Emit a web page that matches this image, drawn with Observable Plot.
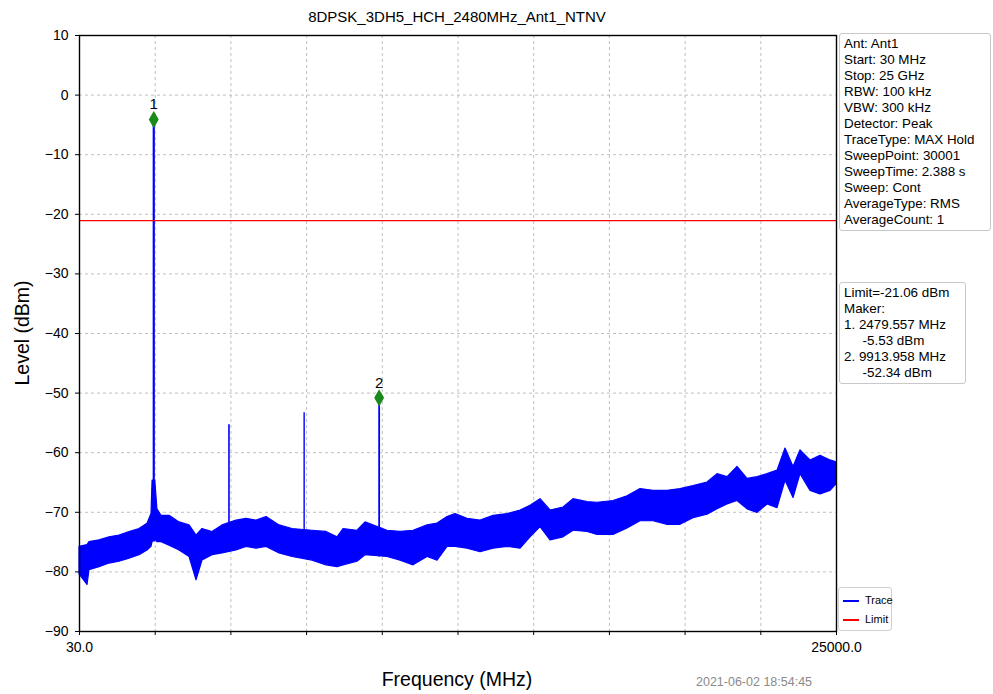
<!DOCTYPE html>
<html>
<head>
<meta charset="utf-8">
<script src="https://cdn.jsdelivr.net/npm/d3@7"></script>
<script src="https://cdn.jsdelivr.net/npm/@observablehq/plot@0.6"></script>
<style>
  html, body { margin: 0; padding: 0; background: #fff; }
  #wrap { position: relative; width: 993px; height: 694px; font-family: "Liberation Sans", Arial, sans-serif; color: #000; }
  #wrap svg { position: absolute; left: 0; top: 0; }
  .abs { position: absolute; white-space: pre; }
  .box { position: absolute; border: 1px solid #c8c8c8; border-radius: 3px; background: #fff; font-size: 13.4px; line-height: 16px; padding: 2px 4px; white-space: pre; }
</style>
</head>
<body>
<div id="wrap"></div>
<script>
// ---- data ----
const title = "8DPSK_3DH5_HCH_2480MHz_Ant1_NTNV";
const xDomain = [30, 25000];
const yDomain = [-90, 10];
const yTicks = [10, 0, -10, -20, -30, -40, -50, -60, -70, -80, -90];
const xTicks = [30, 2527, 5024, 7521, 10018, 12515, 15012, 17509, 20006, 22503, 25000];
const xTickLabels = {30: "30.0", 25000: "25000.0"};
const limitLevel = -21.06;

// noise floor envelope of the trace (MHz, upper dBm, lower dBm)
const bandFreq  = [30, 294, 360, 690, 1020, 1349, 1679, 2009, 2273, 2405, 2440, 2530, 2600, 2735, 2999, 3329, 3659, 3890, 4087, 4417, 4747, 5209, 5539, 5869, 6199, 6628, 7056, 7716, 8178, 8541, 8739, 9200, 9464, 10190, 10619, 11048, 11510, 11840, 12169, 12433, 12829, 13258, 13687, 14148, 14578, 14907, 15237, 15567, 15996, 16326, 16788, 17117, 17644, 18106, 18535, 18964, 19426, 19855, 20283, 20745, 21075, 21405, 21735, 22065, 22395, 22724, 23054, 23318, 23582, 23813, 24143, 24473, 24803, 25000];
const bandUpper = [-75.8, -75.5, -75.0, -74.7, -74.2, -73.9, -73.3, -72.8, -71.9, -70.3, -64.7, -64.7, -69.5, -70.6, -70.6, -71.7, -72.2, -73.9, -72.8, -73.3, -72.2, -71.4, -71.1, -71.4, -70.8, -72.2, -72.8, -73.1, -73.3, -74.2, -72.8, -73.1, -71.7, -73.1, -73.3, -73.1, -72.2, -71.9, -70.8, -70.3, -71.1, -71.4, -70.6, -70.3, -69.7, -68.9, -67.8, -69.7, -69.2, -67.8, -68.3, -68.4, -68.1, -67.3, -66.1, -66.4, -66.4, -66.1, -65.6, -65.0, -63.6, -64.1, -62.4, -64.4, -64.1, -63.6, -63.0, -59.3, -62.4, -59.6, -61.3, -60.5, -61.3, -61.6];
const bandLower = [-80.4, -82.2, -79.7, -79.2, -78.6, -78.3, -77.8, -77.2, -76.4, -75.8, -75.0, -74.6, -75.0, -75.0, -75.6, -76.4, -77.5, -81.4, -78.1, -77.2, -76.9, -76.4, -75.8, -76.1, -75.8, -76.9, -77.5, -78.1, -78.9, -79.2, -78.9, -78.3, -77.2, -77.5, -78.1, -78.9, -77.5, -78.1, -75.8, -75.8, -76.1, -76.7, -76.1, -75.8, -76.1, -74.2, -72.5, -74.7, -74.2, -73.1, -73.3, -73.8, -73.8, -72.7, -71.5, -71.5, -72.1, -72.1, -71.0, -70.4, -69.5, -68.7, -68.1, -69.5, -70.1, -68.7, -69.3, -64.7, -67.6, -63.6, -66.4, -67.0, -66.4, -65.3];

// narrow emissions (harmonics)
const spikeFreq  = [2479.557, 4960, 7440, 9913.958];
const spikePeak  = [-4.0, -55.3, -53.3, -50.8];
const spikeBase  = [-75.0, -76.5, -77.0, -77.5];
const spikeWidth = [2.2, 1.6, 1.4, 1.8];

// markers (as drawn)
const markerLabel = ["1", "2"];
const markerFreq  = [2479.557, 9913.958];
const markerLevel = [-4.1, -50.8];

const infoLines = ["Ant: Ant1", "Start: 30 MHz", "Stop: 25 GHz", "RBW: 100 kHz", "VBW: 300 kHz", "Detector: Peak", "TraceType: MAX Hold", "SweepPoint: 30001", "SweepTime: 2.388 s", "Sweep: Cont", "AverageType: RMS", "AverageCount: 1"];
const markerLines = ["Limit=-21.06 dBm", "Maker:", "1. 2479.557 MHz", "     -5.53 dBm", "2. 9913.958 MHz", "     -52.34 dBm"];
const legendNames = ["Trace", "Limit"];
const legendColors = ["#0000ff", "#ff0000"];
const timestamp = "2021-06-02 18:54:45";

// ---- build ----
const band = bandFreq.map((f, i) => ({f, hi: bandUpper[i], lo: bandLower[i]}));
const spikes = spikeFreq.map((f, i) => ({f, peak: spikePeak[i], base: spikeBase[i], w: spikeWidth[i]}));
const markers = markerFreq.map((f, i) => ({f, y: markerLevel[i], label: markerLabel[i]}));

const blue = "#0000ff";
const chart = Plot.plot({
  width: 993,
  height: 694,
  marginLeft: 79,
  marginRight: 157,
  marginTop: 35,
  marginBottom: 63,
  style: {fontFamily: "Liberation Sans, Arial, sans-serif", fontSize: "14px", color: "#000", background: "#fff"},
  x: {domain: xDomain},
  y: {domain: yDomain},
  marks: [
    Plot.gridX(xTicks, {stroke: "#b0b0b0", strokeOpacity: 1, strokeDasharray: "3,3", strokeWidth: 0.8}),
    Plot.gridY(yTicks, {stroke: "#b0b0b0", strokeOpacity: 1, strokeDasharray: "3,3", strokeWidth: 0.8}),
    Plot.areaY(band, {x: "f", y1: "lo", y2: "hi", fill: blue, stroke: blue, strokeWidth: 1.2, curve: "linear"}),
    Plot.ruleX(spikes, {x: "f", y1: "base", y2: "peak", stroke: blue, strokeWidth: "w"}),
    Plot.ruleY([limitLevel], {stroke: "#ff0000", strokeWidth: 1.2}),
    Plot.dot(markers, {x: "f", y: "y", symbol: "diamond", r: 4.3, fill: "#1a8a1a", stroke: "#1a8a1a"}),
    Plot.text(markers, {x: "f", y: "y", text: "label", dy: -15, fontSize: 15, fill: "#000"}),
    Plot.axisX(xTicks, {tickSize: 4, tickPadding: 7, fontSize: 14, tickFormat: d => xTickLabels[d] ?? "", label: null}),
    Plot.axisY(yTicks, {tickSize: 4, tickPadding: 7, fontSize: 14, tickFormat: d => String(d).replace("-", "\u2212"), label: null}),
    Plot.frame({stroke: "#000", strokeWidth: 1.4})
  ]
});

const wrap = document.getElementById("wrap");
wrap.appendChild(chart);

function addText(txt, css) {
  const d = document.createElement("div");
  d.className = "abs";
  d.textContent = txt;
  Object.assign(d.style, css);
  wrap.appendChild(d);
  return d;
}
addText(title, {left: "0px", width: "914px", top: "8px", textAlign: "center", fontSize: "15px"});
addText("Frequency (MHz)", {left: "0px", width: "914px", top: "668px", textAlign: "center", fontSize: "19.5px"});
addText("Level (dBm)", {left: "22px", top: "333px", fontSize: "19.5px", transform: "translate(-50%,-50%) rotate(-90deg)"});
addText(timestamp, {left: "696px", top: "675px", fontSize: "12.5px", color: "#8a8a8a"});

const b1 = document.createElement("div");
b1.className = "box";
Object.assign(b1.style, {left: "839px", top: "33px", width: "142px"});
b1.textContent = infoLines.join("\n");
wrap.appendChild(b1);

const b2 = document.createElement("div");
b2.className = "box";
Object.assign(b2.style, {left: "839px", top: "282px", width: "117px"});
b2.textContent = markerLines.join("\n");
wrap.appendChild(b2);

// legend
const lg = document.createElement("div");
Object.assign(lg.style, {position: "absolute", left: "838px", top: "587px", width: "52px", height: "42px", border: "1px solid #d0d0d0", borderRadius: "3px", background: "#fff", fontSize: "11px"});
legendNames.forEach((n, i) => {
  const row = document.createElement("div");
  Object.assign(row.style, {position: "absolute", left: "4px", top: (6 + i * 19) + "px", height: "12px", lineHeight: "12px", whiteSpace: "nowrap"});
  const sw = document.createElement("span");
  Object.assign(sw.style, {display: "inline-block", width: "16px", height: "2px", background: legendColors[i], verticalAlign: "middle", marginRight: "6px"});
  row.appendChild(sw);
  row.appendChild(document.createTextNode(n));
  lg.appendChild(row);
});
wrap.appendChild(lg);
</script>
</body>
</html>
